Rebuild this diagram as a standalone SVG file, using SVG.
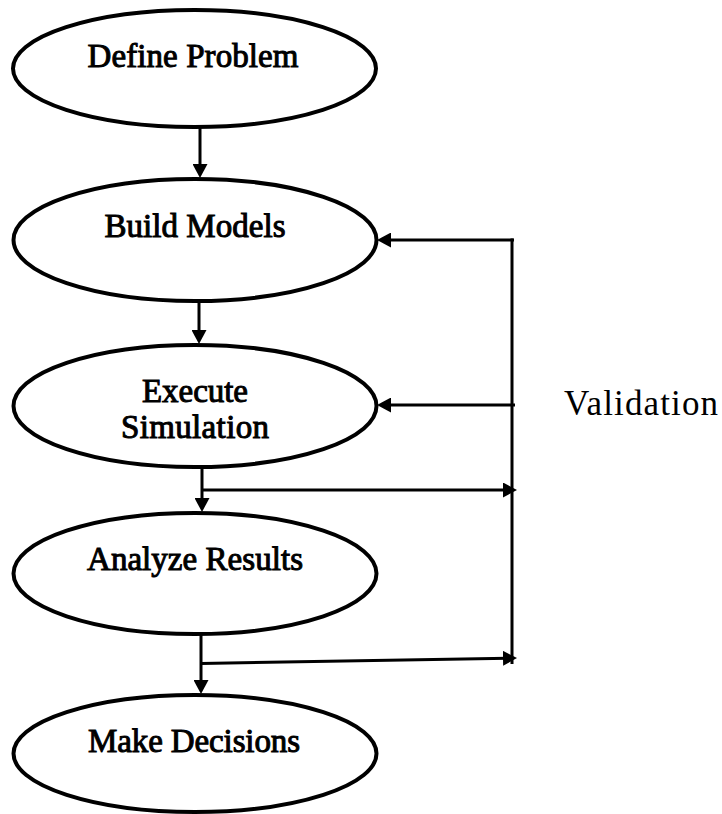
<svg xmlns="http://www.w3.org/2000/svg" width="722" height="814" viewBox="0 0 722 814">
  <style>
    .node ellipse { fill: #ffffff; stroke: #000000; stroke-width: 4; }
    /* heavy serif captions: regular face thickened with a thin outline */
    .label { font-family: "Liberation Serif", "Times New Roman", serif; font-size: 33px; fill: #000000; stroke: #000000; stroke-width: 1; text-anchor: middle; }
    .note { font-family: "Liberation Serif", "Times New Roman", serif; font-size: 35px; fill: #000000; }
    .conn { fill: none; stroke: #000000; stroke-width: 3; }
  </style>
  <defs>
    <marker id="head" markerUnits="userSpaceOnUse" markerWidth="15" markerHeight="15" refX="5" refY="7.5" orient="auto">
      <path d="M0,0 L14,7.5 L0,15 Z" fill="#000000"/>
    </marker>
  </defs>

  <rect width="722" height="814" fill="#ffffff"/>

  <!-- process steps -->
  <g id="define-problem" class="node">
    <ellipse cx="194.5" cy="68.5" rx="181.5" ry="58.5"/>
    <text class="label" x="193" y="67" textLength="211">Define Problem</text>
  </g>
  <g id="build-models" class="node">
    <ellipse cx="195" cy="240" rx="181.5" ry="61"/>
    <text class="label" x="195" y="237" textLength="181">Build Models</text>
  </g>
  <g id="execute-simulation" class="node">
    <ellipse cx="195" cy="406" rx="181.5" ry="61"/>
    <text class="label" x="195" y="402" textLength="106">Execute</text>
    <text class="label" x="195" y="438" textLength="148">Simulation</text>
  </g>
  <g id="analyze-results" class="node">
    <ellipse cx="195" cy="573.5" rx="181.5" ry="60.5"/>
    <text class="label" x="195" y="570" textLength="216">Analyze Results</text>
  </g>
  <g id="make-decisions" class="node">
    <ellipse cx="195" cy="753.5" rx="181.5" ry="58.5"/>
    <text class="label" x="194" y="752" textLength="212">Make Decisions</text>
  </g>

  <!-- validation loop label -->
  <g id="validation">
    <text class="note" x="564" y="415" textLength="154">Validation</text>
  </g>

  <!-- connectors -->
  <g id="connectors">
    <line class="conn" x1="200" y1="127" x2="200" y2="169" marker-end="url(#head)"/>
    <line class="conn" x1="199" y1="301" x2="199" y2="335" marker-end="url(#head)"/>
    <line class="conn" x1="202" y1="467" x2="202" y2="503" marker-end="url(#head)"/>
    <line class="conn" x1="201" y1="634" x2="201" y2="685" marker-end="url(#head)"/>

    <!-- outputs fed to validation -->
    <line class="conn" x1="202" y1="490" x2="508" y2="490" marker-end="url(#head)"/>
    <line class="conn" x1="201" y1="663.5" x2="508" y2="658.2" marker-end="url(#head)"/>

    <!-- validation return path -->
    <line class="conn" x1="512" y1="238.5" x2="512" y2="664"/>
    <line class="conn" x1="514" y1="240" x2="386" y2="240" marker-end="url(#head)"/>
    <line class="conn" x1="515" y1="405" x2="386" y2="405" marker-end="url(#head)"/>
  </g>
</svg>
